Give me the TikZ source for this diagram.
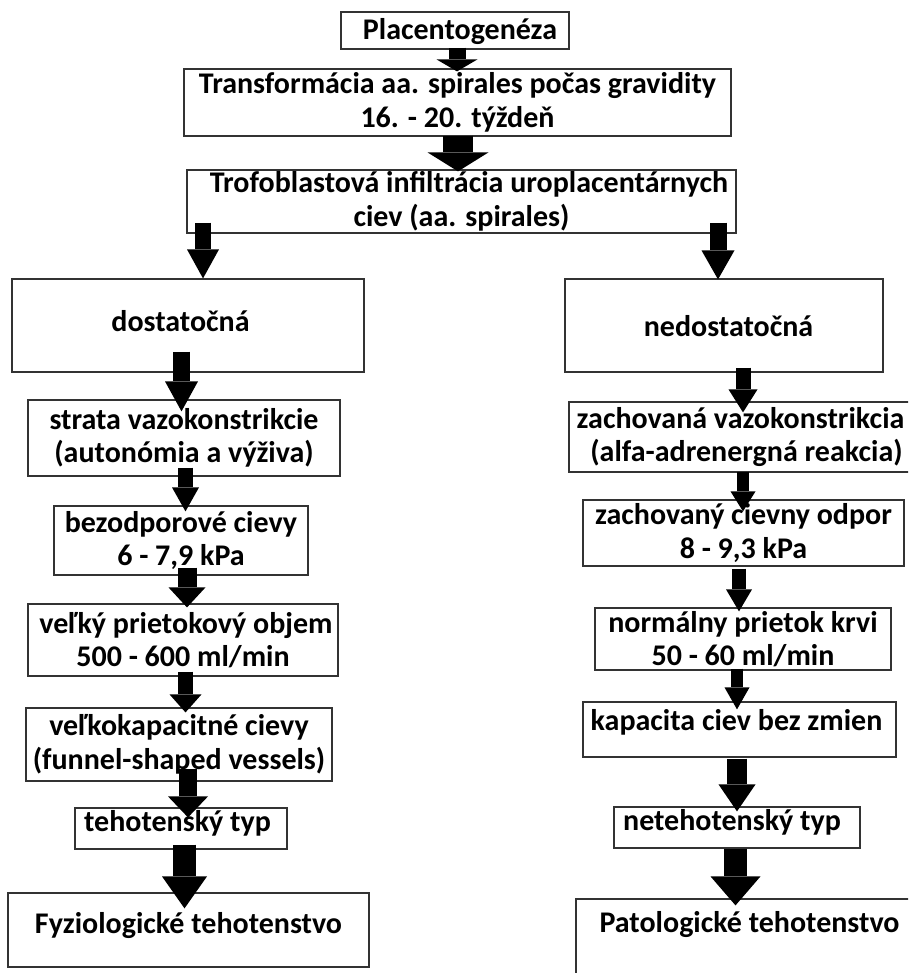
\documentclass[tikz,border=0pt]{standalone}
\usepackage{fontspec}
\setmainfont{Carlito}
\usetikzlibrary{arrows.meta}

\begin{document}
\begin{tikzpicture}[x=1pt,y=-1pt,
  box/.style={draw=black!80,line width=1.2pt,inner sep=0pt,align=center,
    font=\fontsize{30}{33.5}\selectfont\bfseries},
  flow/.style n args={3}{line width=#1,
    -{Triangle[width=#2,length=#3,line width=0pt]}}]
  \clip (0,0) rectangle (908,973);

  % top part
  \node[box,minimum width=228pt,minimum height=37pt,text height=20pt,text depth=2pt]
    (plac) at (455,30.5) {\hspace{10pt}Placentogenéza};
  \node[box,minimum width=547pt,minimum height=67pt] (trans) at (457.5,102.5)
    {Transformácia aa. spirales počas gravidity\\16. - 20. týždeň\hspace{19pt}};
  \node[box,minimum width=549pt,minimum height=63pt] (trof) at (461.5,201.5)
    {\hspace{15pt}Trofoblastová infiltrácia uroplacentárnych\\ciev (aa. spirales)};

  % left branch
  \node[box,minimum width=352pt,minimum height=93pt,text height=18pt,text depth=6pt]
    (dost) at (188,325.5) {dostatočná\hspace{15pt}};
  \node[box,minimum width=312pt,minimum height=76pt] (strata) at (184,438)
    {strata vazokonstrikcie\\(autonómia a výživa)\hspace{23pt}};
  \node[box,minimum width=254pt,minimum height=69pt] (bezod) at (181,540.5)
    {bezodporové cievy\\6 - 7,9 kPa\hspace{30pt}};
  \node[box,minimum width=310pt,minimum height=72pt] (velky) at (183,640)
    {\hspace{6pt}veľký prietokový objem\\500 - 600 ml/min\hspace{24pt}};
  \node[box,minimum width=306pt,minimum height=73pt] (velkokap) at (179,744.5)
    {veľkokapacitné cievy\hspace{6pt}\\(funnel-shaped vessels)};
  \node[box,minimum width=212pt,minimum height=41pt,text height=18pt,text depth=11.5pt]
    (teho) at (181,828.5) {tehotenský typ\hspace{7pt}};
  \node[box,minimum width=361pt,minimum height=74pt,text height=18pt,text depth=12pt]
    (fyz) at (188.5,930) {Fyziologické tehotenstvo};

  % right branch
  \node[box,minimum width=318pt,minimum height=93pt,text height=24pt,text depth=3pt]
    (ned) at (724,325.5) {\hspace{9pt}nedostatočná};
  \node[box,minimum width=343pt,minimum height=70pt] (zach) at (740.5,437)
    {zachovaná vazokonstrikcia\\\hspace{12pt}(alfa-adrenergná reakcia)};
  \node[box,minimum width=321pt,minimum height=66pt] (zachc) at (743.5,533)
    {zachovaný cievny odpor\\8 - 9,3 kPa\hspace{16pt}};
  \node[box,minimum width=296pt,minimum height=62pt] (norm) at (743,639)
    {normálny prietok krvi\hspace{11pt}\\50 - 60 ml/min};
  \node[box,minimum width=313pt,minimum height=55pt,text height=18pt,text depth=17pt]
    (kap) at (739.5,729.5) {kapacita ciev bez zmien\hspace{6pt}};
  \node[box,minimum width=246pt,minimum height=41pt,text height=18pt,text depth=13pt]
    (neteh) at (737,827.5) {netehotenský typ\hspace{10pt}};
  \node[box,minimum width=338pt,minimum height=86pt,text height=18pt,text depth=38pt]
    (pat) at (745,942) {\hspace{9pt}Patologické tehotenstvo};

  % block arrows
  \draw[flow={17pt}{41pt}{12pt}] ([xshift=2pt,yshift=2pt]plac.south)
    -- ([xshift=-0.5pt,yshift=-3pt]trans.north);
  \draw[flow={30pt}{61pt}{19pt}] ([xshift=0.5pt,yshift=1pt]trans.south)
    -- ([xshift=-3.5pt,yshift=-2pt]trof.north);
  \draw[flow={16pt}{32pt}{29pt}] ([xshift=-258.5pt,yshift=11pt]trof.south)
    -- ([xshift=15pt]dost.north);
  \draw[flow={17pt}{33pt}{29pt}] ([xshift=256.5pt,yshift=11pt]trof.south)
    -- ([xshift=-6pt,yshift=-1pt]ned.north);

  \draw[flow={17pt}{33pt}{30pt}] ([xshift=-6.5pt,yshift=21pt]dost.south)
    -- ([xshift=-2.5pt,yshift=-12pt]strata.north);
  \draw[flow={15pt}{27pt}{24pt}] ([xshift=1.5pt,yshift=9pt]strata.south)
    -- ([xshift=4.5pt,yshift=-6pt]bezod.north);
  \draw[flow={19pt}{37pt}{20pt}] ([xshift=6pt,yshift=8pt]bezod.south)
    -- ([xshift=4pt,yshift=-4pt]velky.north);
  \draw[flow={15pt}{32pt}{18pt}] ([xshift=2.5pt,yshift=5pt]velky.south)
    -- ([xshift=6.5pt,yshift=-5pt]velkokap.north);
  \draw[flow={18pt}{40pt}{21pt}] ([xshift=9pt,yshift=13pt]velkokap.south)
    -- ([xshift=7pt,yshift=-10pt]teho.north);
  \draw[flow={23pt}{45pt}{32pt}] ([xshift=3.5pt,yshift=5pt]teho.south)
    -- ([xshift=-4pt,yshift=-16pt]fyz.north);

  \draw[flow={15pt}{29pt}{23pt}] ([xshift=19pt,yshift=5pt]ned.south)
    -- ([xshift=2.5pt,yshift=-11pt]zach.north);
  \draw[flow={12pt}{25pt}{20pt}] ([xshift=2.5pt,yshift=1pt]zach.south)
    -- ([xshift=-0.5pt,yshift=-12pt]zachc.north);
  \draw[flow={14pt}{26pt}{22pt}] ([xshift=-4.5pt,yshift=-2pt]zachc.south)
    -- ([xshift=-4pt,yshift=-4pt]norm.north);
  \draw[flow={12pt}{25pt}{22pt}] ([xshift=-6pt,yshift=2pt]norm.south)
    -- ([xshift=-2.5pt,yshift=-8pt]kap.north);
  \draw[flow={20pt}{37pt}{27pt}] ([xshift=-2.5pt,yshift=-1pt]kap.south)
    -- ([yshift=-5pt]neteh.north);
  \draw[flow={23pt}{50pt}{29pt}] ([xshift=-1.5pt]neteh.south)
    -- ([xshift=-9.5pt,yshift=-7pt]pat.north);
\end{tikzpicture}
\end{document}
